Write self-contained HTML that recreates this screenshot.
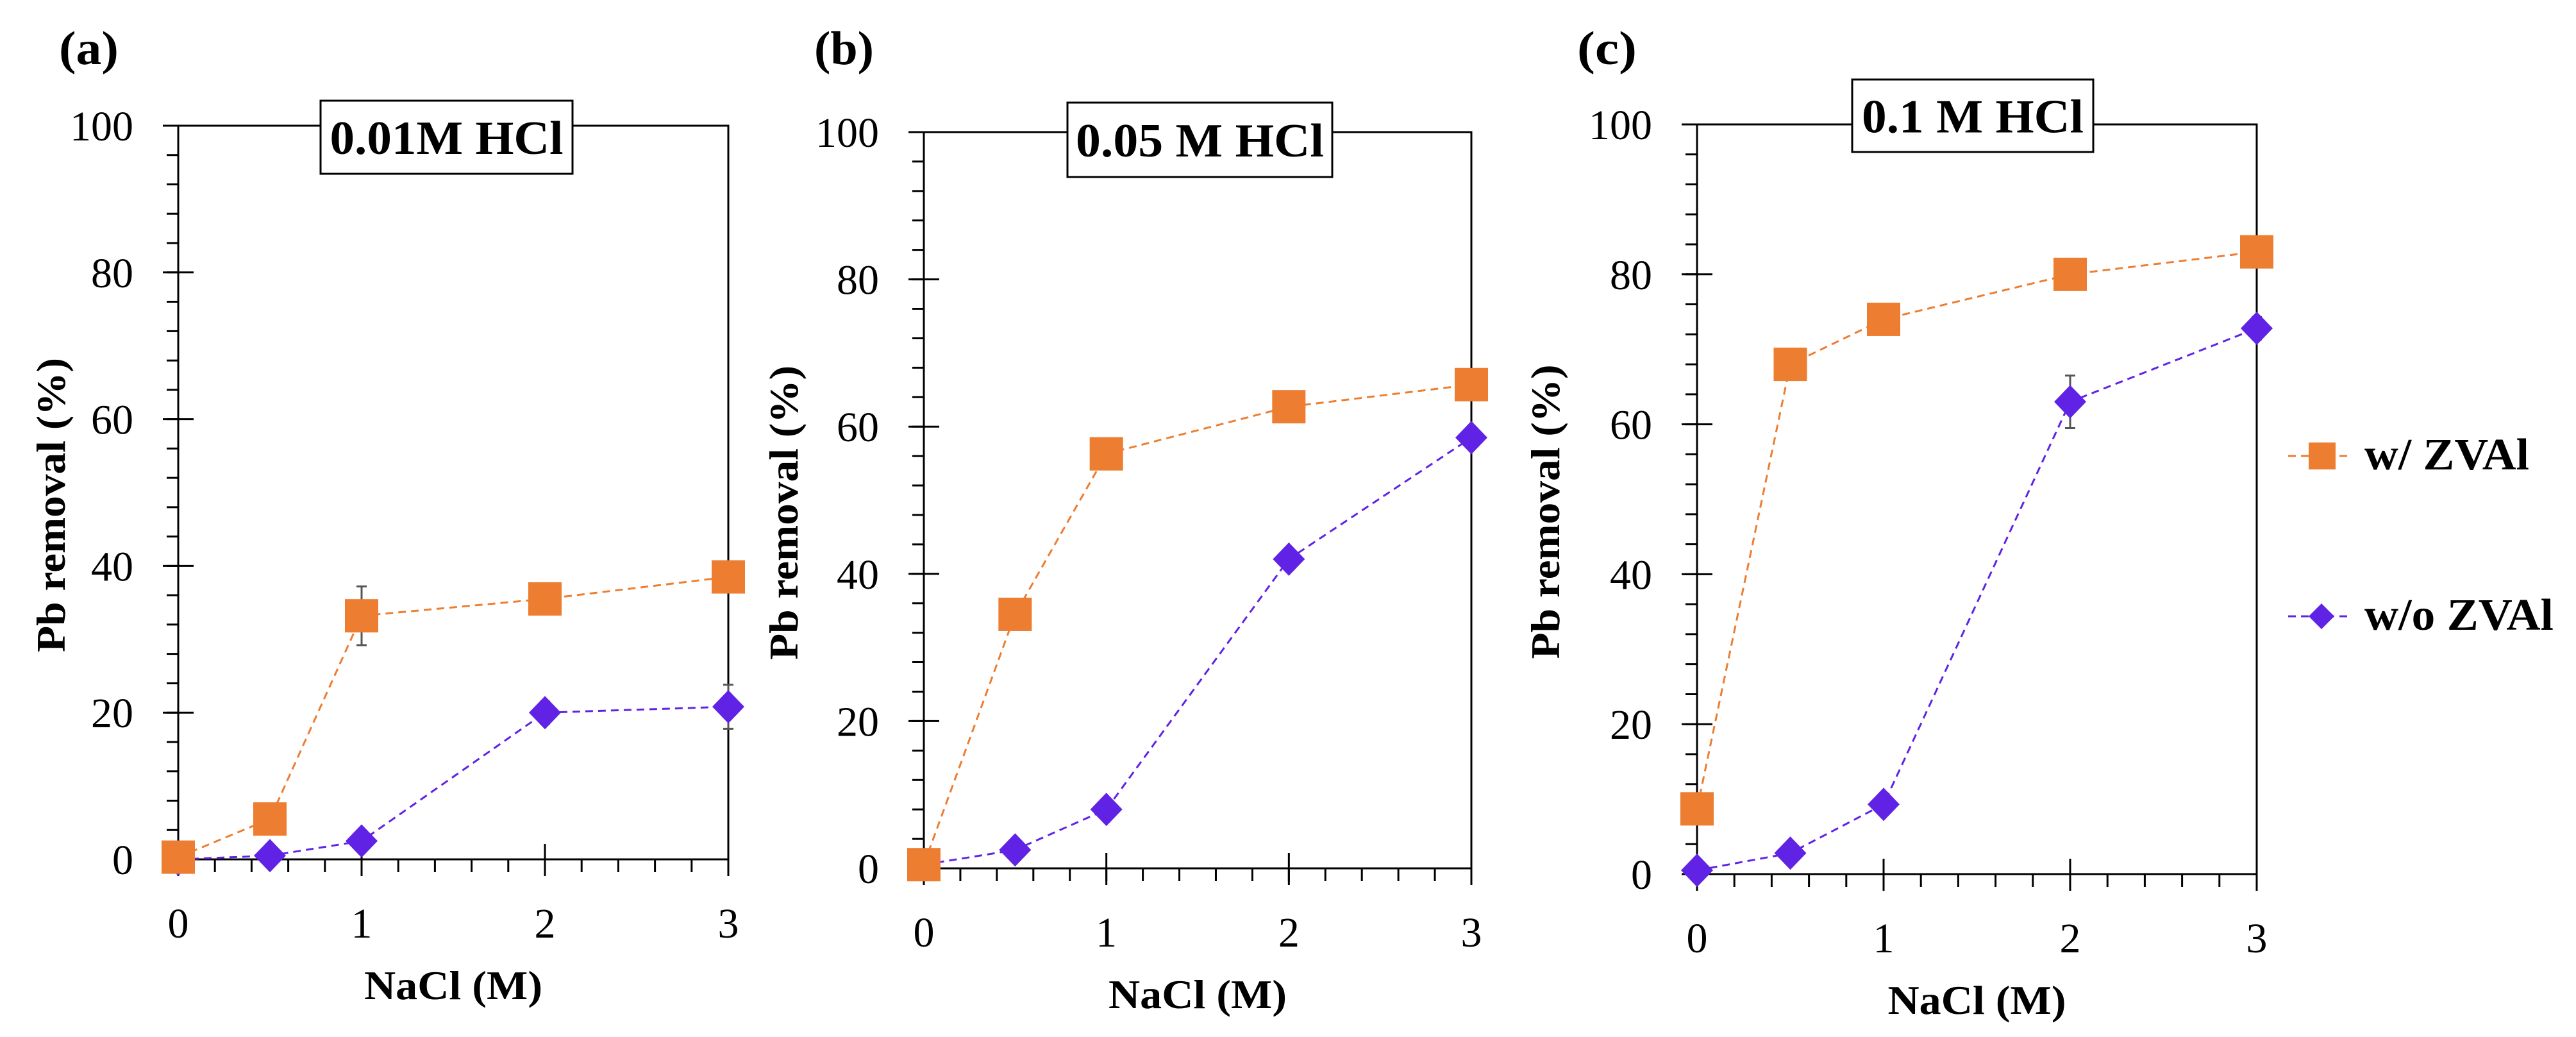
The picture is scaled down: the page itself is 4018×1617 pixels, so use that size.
<!DOCTYPE html>
<html><head><meta charset="utf-8">
<style>
html,body{margin:0;padding:0;background:#fff;}
svg{display:block;font-family:"Liberation Serif",serif;}
</style></head>
<body>
<svg id="chart" width="4018" height="1617" viewBox="0 0 4018 1617" xmlns="http://www.w3.org/2000/svg">
<rect width="4018" height="1617" fill="#fff"/>
<g id="panels"></g>
<g>
  <line x1="3569" y1="711" x2="3668" y2="711" stroke="#ED7D31" stroke-width="3" stroke-dasharray="12,8"/>
  <rect x="3601" y="690" width="42" height="42" fill="#ED7D31"/>
  <text x="3688" y="732" font-size="70" font-weight="bold" textLength="257" lengthAdjust="spacingAndGlyphs">w/ ZVAl</text>
  <line x1="3569" y1="961" x2="3668" y2="961" stroke="#6023E5" stroke-width="3" stroke-dasharray="12,8"/>
  <polygon points="3621,941 3641,961 3621,981 3601,961" fill="#6023E5"/>
  <text x="3688" y="982" font-size="70" font-weight="bold" textLength="295" lengthAdjust="spacingAndGlyphs">w/o ZVAl</text>
</g>
</svg>
<script>
const categories = [0, 0.5, 1, 2, 3];
const panelLetters = ["(a)", "(b)", "(c)"];
const panelTitles = ["0.01M HCl", "0.05 M HCl", "0.1 M HCl"];
const withZval_a = [0.3, 5.5, 33.2, 35.5, 38.5];
const withoutZval_a = [0, 0.5, 2.5, 20, 20.8];
const withZval_b = [0.5, 34.5, 56.3, 62.7, 65.7];
const withoutZval_b = [0.5, 2.5, 8, 42, 58.5];
const withZval_c = [8.7, 68, 74, 80, 83];
const withoutZval_c = [0.5, 2.8, 9.3, 63, 72.8];
const errWith_a = [0, 0, 4, 0, 0];
const errWithout_a = [0, 0, 0, 1.5, 3];
const errWith_b = [0, 0, 0, 0, 0];
const errWithout_b = [0, 0, 0, 0, 0];
const errWith_c = [0, 0, 0, 0, 0];
const errWithout_c = [0, 0, 0, 3.5, 1.5];
const yTicks = [0, 20, 40, 60, 80, 100];
const xTicks = [0, 1, 2, 3];

const NS = "http://www.w3.org/2000/svg";
const layouts = [
  {x0:278, x1:1136, y0:1340, y1:196, letterX:92, titleX:500, titleW:393, titleY:157, titleH:114, titleTL:364, ytX:79},
  {x0:1441, x1:2295, y0:1354, y1:206, letterX:1270, titleX:1665, titleW:413, titleY:160, titleH:116, titleTL:387, ytX:1222},
  {x0:2647, x1:3520, y0:1363, y1:194, letterX:2460, titleX:2889, titleW:376, titleY:124, titleH:113, titleTL:346, ytX:2410}
];
const withSeries = [withZval_a, withZval_b, withZval_c];
const withoutSeries = [withoutZval_a, withoutZval_b, withoutZval_c];
const errW = [errWith_a, errWith_b, errWith_c];
const errWo = [errWithout_a, errWithout_b, errWithout_c];

function mk(tag, attrs, parent){
  const e = document.createElementNS(NS, tag);
  for (const k in attrs) e.setAttribute(k, attrs[k]);
  parent.appendChild(e);
  return e;
}
const root = document.getElementById("panels");

layouts.forEach((L, p) => {
  const g = mk("g", {}, root);
  
  
  const sx = v => L.x0 + (v / 3) * (L.x1 - L.x0);
  const sy = v => L.y0 - (v / 100) * (L.y0 - L.y1);

  const letter = mk("text", {x: L.letterX, y: 100, "font-size": 74, "font-weight": "bold", textLength: 93, lengthAdjust: "spacingAndGlyphs"}, g);
  letter.textContent = panelLetters[p];
  
  

  const frame = mk("rect", {x: L.x0, y: L.y1, width: L.x1 - L.x0, height: L.y0 - L.y1, fill: "none", stroke: "#000", "stroke-width": 3}, g);
  
  

  for (let v = 0; v <= 100; v += 4) {
    const t = mk("line", {x1: L.x0 - 18, x2: L.x0, y1: sy(v), y2: sy(v), stroke: "#000", "stroke-width": 3}, g);
    
    
  }
  yTicks.forEach(v => {
    const t = mk("line", {x1: L.x0 - 24, x2: L.x0 + 24, y1: sy(v), y2: sy(v), stroke: "#000", "stroke-width": 3}, g);
    
    
    const lb = mk("text", {x: L.x0 - 70, y: sy(v) + 23, "font-size": 66, "text-anchor": "end"}, g);
    lb.textContent = v;
    
    
  });
  for (let v = 0; v <= 3.0001; v += 0.2) {
    const t = mk("line", {x1: sx(v), x2: sx(v), y1: L.y0, y2: L.y0 + 20, stroke: "#000", "stroke-width": 3}, g);
    
    
  }
  xTicks.forEach(v => {
    const t = mk("line", {x1: sx(v), x2: sx(v), y1: L.y0 - 24, y2: L.y0 + 26, stroke: "#000", "stroke-width": 3}, g);
    
    
    const lb = mk("text", {x: sx(v), y: L.y0 + 122, "font-size": 66, "text-anchor": "middle"}, g);
    lb.textContent = v;
    
    
  });

  const xt = mk("text", {x: (L.x0 + L.x1) / 2 - 139, y: L.y0 + 218, "font-size": 64, "font-weight": "bold", textLength: 278, lengthAdjust: "spacingAndGlyphs"}, g);
  xt.textContent = "NaCl (M)";
  
  
  const cy = (L.y0 + L.y1) / 2 + 20;
  const yt = mk("text", {x: L.ytX + 22, y: cy + 229, "font-size": 64, "font-weight": "bold", textLength: 459, lengthAdjust: "spacingAndGlyphs", transform: `rotate(-90 ${L.ytX + 22} ${cy + 229})`}, g);
  yt.textContent = "Pb removal (%)";
  
  

  const tb = mk("rect", {x: L.titleX, y: L.titleY, width: L.titleW, height: L.titleH, fill: "#fff", stroke: "#000", "stroke-width": 3}, g);
  
  
  const tt = mk("text", {x: L.titleX + (L.titleW - L.titleTL) / 2, y: L.titleY + L.titleH / 2 + 26, "font-size": 74, "font-weight": "bold", textLength: L.titleTL, lengthAdjust: "spacingAndGlyphs"}, g);
  tt.textContent = panelTitles[p];
  
  

  const series = [
    {vals: withoutSeries[p], err: errWo[p], color: "#6023E5", name: "without-zval", shape: "diamond"},
    {vals: withSeries[p], err: errW[p], color: "#ED7D31", name: "with-zval", shape: "square"}
  ];
  series.forEach(s => {
    const pts = categories.map((c, i) => sx(c) + "," + sy(s.vals[i])).join(" ");
    const ln = mk("polyline", {points: pts, fill: "none", stroke: s.color, "stroke-width": 3, "stroke-dasharray": "12,8"}, g);
    
    
    categories.forEach((c, i) => {
      const x = sx(c), y = sy(s.vals[i]);
      if (s.err[i] > 0) {
        const e1 = sy(s.vals[i] + s.err[i]), e2 = sy(s.vals[i] - s.err[i]);
        const eb = mk("path", {d: `M${x},${e1}V${e2}M${x-8},${e1}H${x+8}M${x-8},${e2}H${x+8}`, stroke: "#555", "stroke-width": 3, fill: "none"}, g);
        
        
      }
      let m;
      if (s.shape === "square") {
        m = mk("rect", {x: x - 26, y: y - 26, width: 52, height: 52, fill: s.color}, g);
      } else {
        m = mk("polygon", {points: `${x},${y-26} ${x+25},${y} ${x},${y+26} ${x-25},${y}`, fill: s.color}, g);
      }
      
      
    });
  });
});
</script>
</body></html>
